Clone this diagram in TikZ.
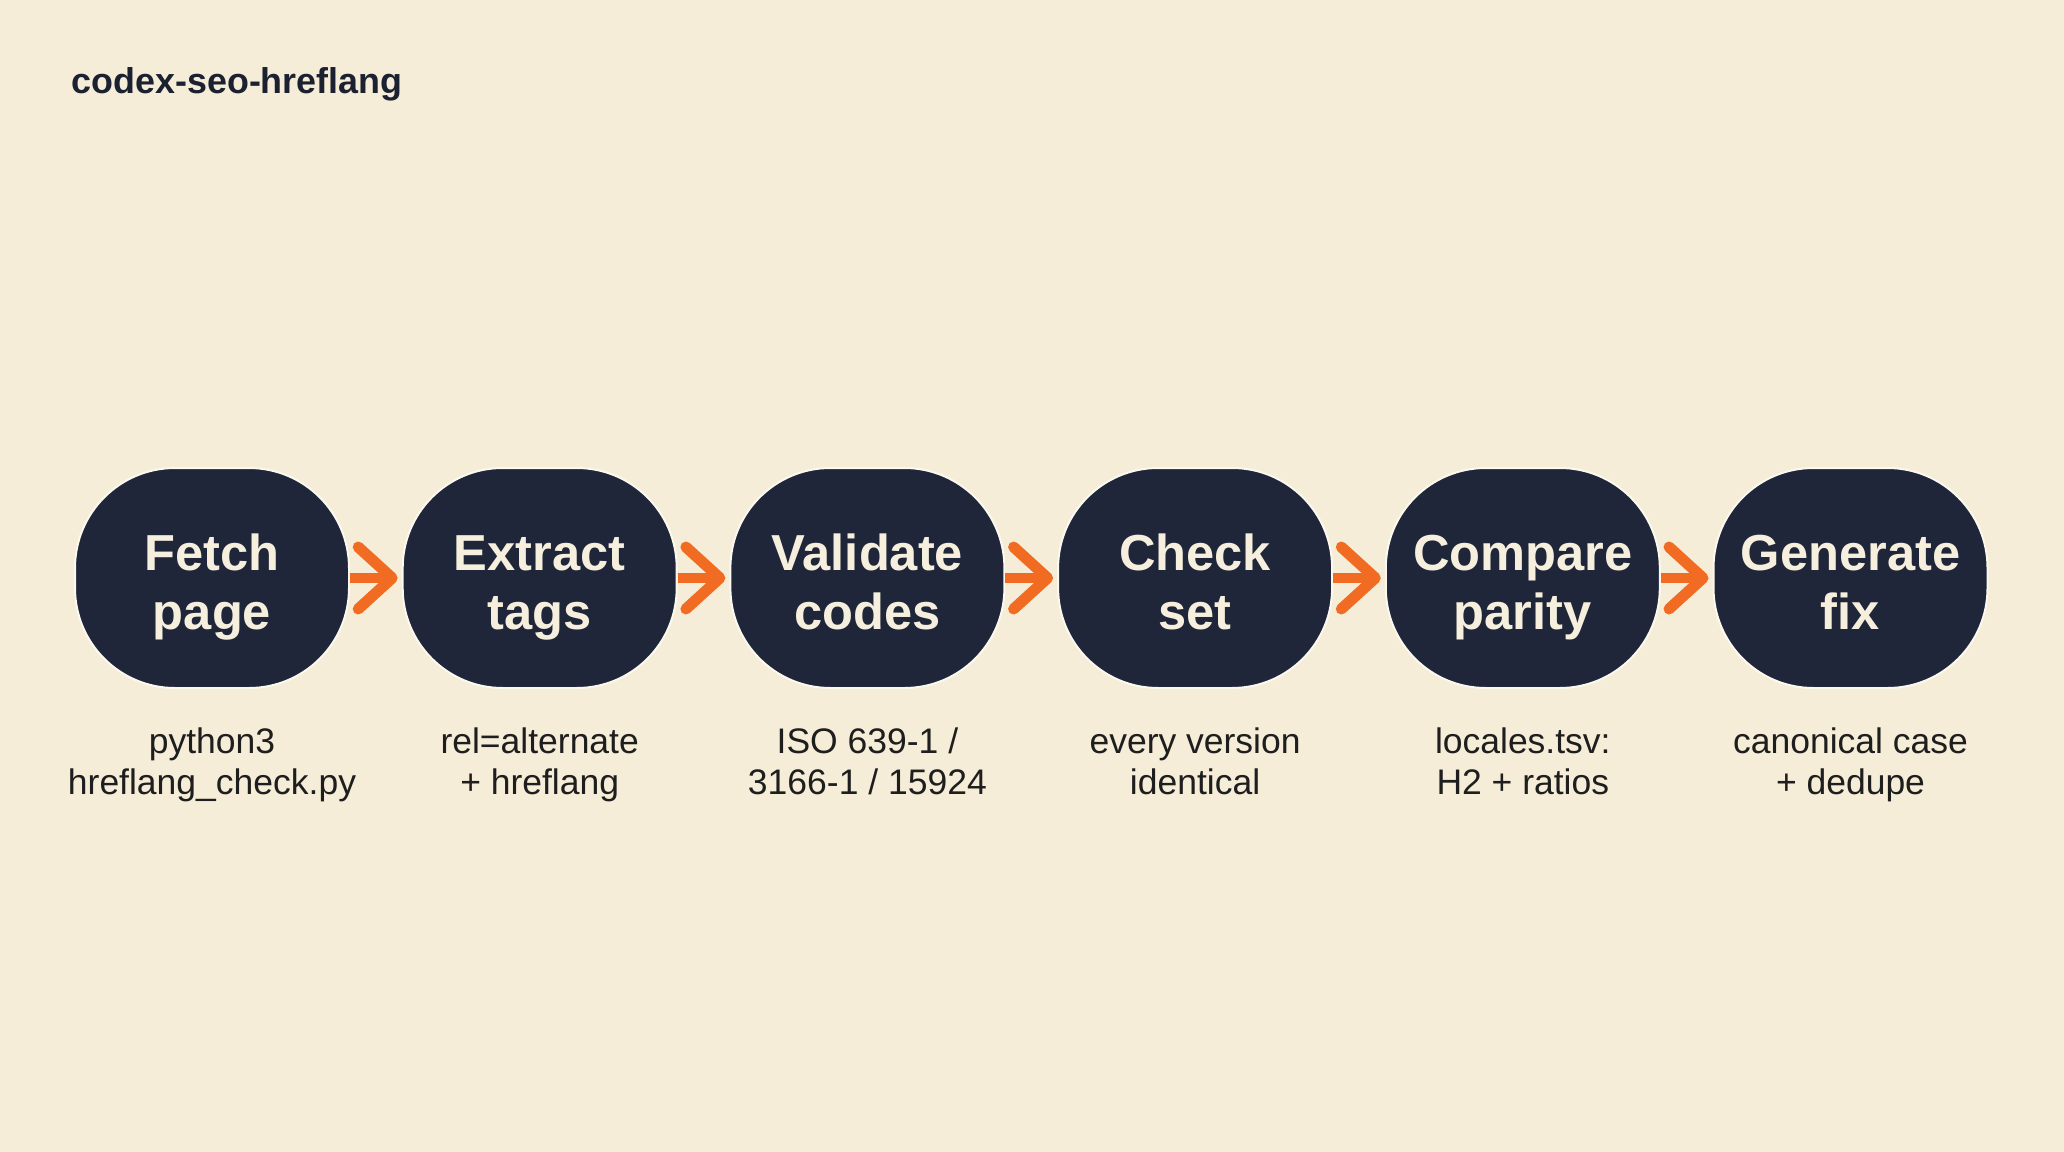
\documentclass[tikz,border=0pt]{standalone}
\usepackage{fontspec}
\setmainfont{Liberation Sans}
\usetikzlibrary{arrows.meta}
\definecolor{bg}{HTML}{F5EDD7}
\definecolor{navy}{HTML}{1F2639}
\definecolor{cream}{HTML}{F6EFDD}
\definecolor{orng}{HTML}{F26B22}
\definecolor{ink}{HTML}{1E1E1E}
\definecolor{titleink}{HTML}{1B2130}
\newcommand{\twolines}[2]{\strut #1\strut\\\strut #2\strut}
\newcommand{\boxlines}[2]{\rule{0pt}{17.7pt}#1\strut\\\strut #2\strut}
\tikzset{
  stepbox/.style={draw=white!60!bg, line width=0.02cm, fill=navy, rounded corners=1cm,
    minimum width=2.74cm, minimum height=2.2cm, inner sep=0pt, align=center,
    text=cream, font=\fontsize{14.4}{16.8}\selectfont\bfseries},
  sublabel/.style={align=center, text=ink, inner sep=0pt,
    font=\fontsize{10.1}{11.6}\selectfont},
  flow/.style={draw=orng, line width=0.1cm, shorten >=0.04cm,
    -{Straight Barb[length=0.34cm, width=0.62cm, line width=0.11cm, line cap=round, line join=round]}}
}
\begin{document}
\begin{tikzpicture}
\fill[bg] (0,0) rectangle (20.64,-11.52);
\useasboundingbox (0,0) rectangle (20.64,-11.52);
\node[anchor=base west, inner sep=0pt, text=titleink, font=\fontsize{10.2}{12}\selectfont\bfseries] (title) at (0.71,-0.936) {codex-seo-hreflang};

\node[stepbox] (n1) at (2.12,-5.78) {\boxlines{Fetch}{page}};
\node[stepbox] (n2) at (5.397,-5.78) {\boxlines{Extract}{tags}};
\node[stepbox] (n3) at (8.674,-5.78) {\boxlines{Validate}{codes}};
\node[stepbox] (n4) at (11.951,-5.78) {\boxlines{Check}{set}};
\node[stepbox] (n5) at (15.228,-5.78) {\boxlines{Compare}{parity}};
\node[stepbox] (n6) at (18.505,-5.78) {\boxlines{Generate}{fix}};

\node[sublabel] (l1) at (2.12,-7.656) {\twolines{python3}{hreflang\_check.py}};
\node[sublabel] (l2) at (5.397,-7.656) {\twolines{rel=alternate}{+ hreflang}};
\node[sublabel] (l3) at (8.674,-7.656) {\twolines{ISO 639-1 /}{3166-1 / 15924}};
\node[sublabel] (l4) at (11.951,-7.656) {\twolines{every version}{identical}};
\node[sublabel] (l5) at (15.228,-7.656) {\twolines{locales.tsv:}{H2 + ratios}};
\node[sublabel] (l6) at (18.505,-7.656) {\twolines{canonical case}{+ dedupe}};

\draw[flow] (n1.east) -- (n2.west);
\draw[flow] (n2.east) -- (n3.west);
\draw[flow] (n3.east) -- (n4.west);
\draw[flow] (n4.east) -- (n5.west);
\draw[flow] (n5.east) -- (n6.west);
\end{tikzpicture}
\end{document}
